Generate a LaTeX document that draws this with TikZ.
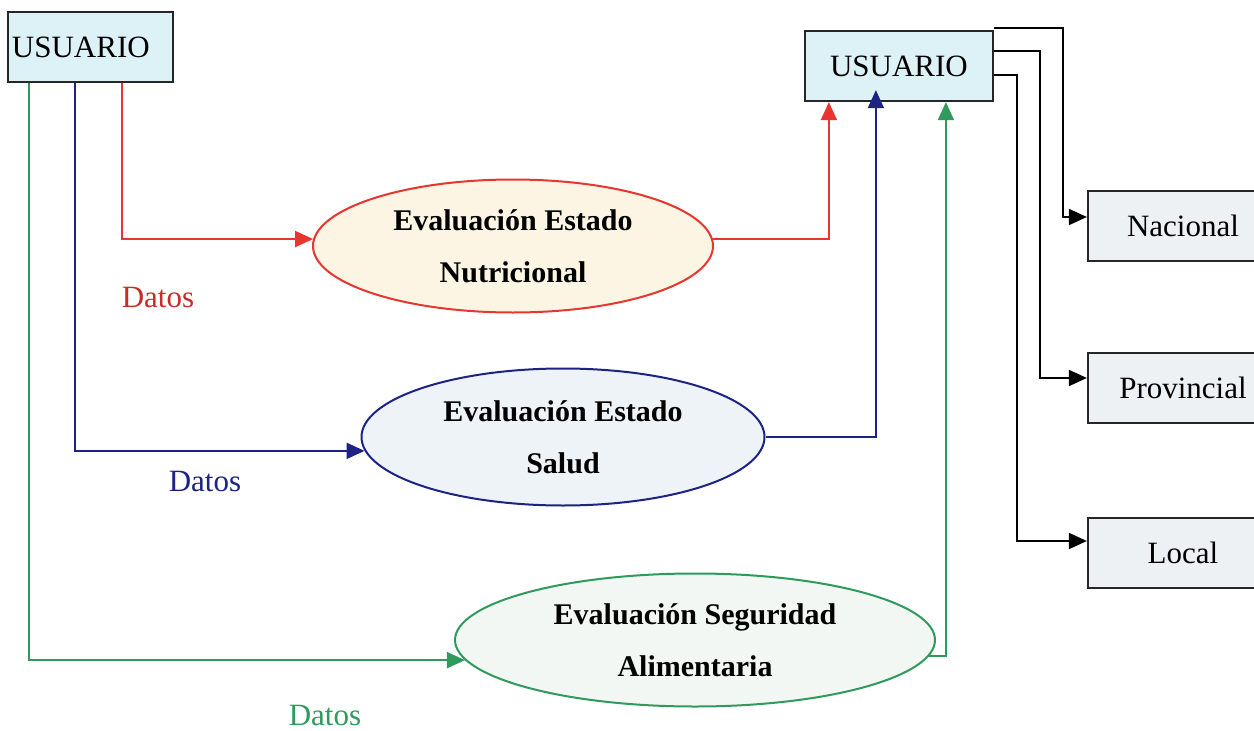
\documentclass[tikz,border=0pt]{standalone}
\usepackage{fontspec}
\setmainfont{Liberation Serif}
\usetikzlibrary{arrows.meta,shapes.geometric}
\definecolor{cred}{HTML}{E6362F}
\definecolor{cblue}{HTML}{1C2384}
\definecolor{cgreen}{HTML}{2E9A5C}
\definecolor{boxcyan}{HTML}{DDF2F7}
\definecolor{boxgray}{HTML}{EEF1F3}
\definecolor{fillnut}{HTML}{FDF5E4}
\definecolor{fillsal}{HTML}{EEF3F8}
\definecolor{fillseg}{HTML}{F3F7F3}
\tikzset{
  usr/.style={draw=black!85, line width=2.2pt, fill=boxcyan, minimum height=70pt, inner sep=0pt,
    font=\fontsize{31}{36}\selectfont},
  lvl/.style={draw=black!85, line width=2.2pt, fill=boxgray, minimum width=190pt, minimum height=70pt,
    inner sep=0pt, font=\fontsize{31}{36}\selectfont},
  proc/.style={ellipse, line width=2pt, inner sep=0pt, align=center,
    font=\fontsize{30}{52}\selectfont\bfseries},
  conn/.style={line width=1.8pt},
  arr/.style={conn, -{Triangle[length=18pt,width=16pt]}},
  lab/.style={font=\fontsize{31}{36}\selectfont}
}
\begin{document}
\begin{tikzpicture}[x=1pt,y=-1pt]
\clip (0,0) rectangle (1254,731);
\fill[white] (0,0) rectangle (1254,731);

% boxes
\node[usr, text width=157pt, align=left, inner xsep=4pt] (u1) at (90.5,47) {USUARIO};
\node[usr, minimum width=188pt] (u2) at (899,66) {USUARIO};
\node[lvl] (nac) at (1183,226) {Nacional};
\node[lvl] (prov) at (1183,388) {Provincial};
\node[lvl] (loc) at (1183,553) {Local};

% ellipses
\node[proc, draw=cred, fill=fillnut, minimum width=400pt, minimum height=133pt] (e1) at (513,246)
  {Evaluación Estado\\Nutricional};
\node[proc, draw=cblue, fill=fillsal, minimum width=403pt, minimum height=137pt] (e2) at (563,437)
  {Evaluación Estado\\Salud};
\node[proc, draw=cgreen, fill=fillseg, minimum width=480pt, minimum height=133pt] (e3) at (695,640)
  {Evaluación Seguridad\\Alimentaria};

% labels
\node[lab, text=cred!85!black] (d1) at (158,297) {Datos};
\node[lab, text=cblue] (d2) at (205,481) {Datos};
\node[lab, text=cgreen] (d3) at (325,715) {Datos};

% input connectors
\draw[arr, cred] ([xshift=115pt]u1.south west) |- (e1.178);
\draw[arr, cblue] ([xshift=68pt]u1.south west) |- (e2.184);
\draw[arr, cgreen] ([xshift=22pt]u1.south west) |- (e3.185);

% output connectors
\draw[arr, cred] (e1.2) -| ([xshift=25pt]u2.south west);
\draw[arr, cblue] (e2.east) -| ([xshift=72pt,yshift=12pt]u2.south west);
\draw[arr, cgreen] (e3.356) -| ([xshift=142pt]u2.south west);

% distribution connectors
\draw[arr, black] ([yshift=2pt]u2.north east) -| ([xshift=-24pt,yshift=9pt]nac.west) -- ([yshift=9pt]nac.west);
\draw[arr, black] ([yshift=-21pt]u2.north east) -| ([xshift=-47pt,yshift=10pt]prov.west) -- ([yshift=10pt]prov.west);
\draw[arr, black] ([yshift=-45pt]u2.north east) -| ([xshift=-70pt,yshift=12pt]loc.west) -- ([yshift=12pt]loc.west);
\end{tikzpicture}
\end{document}
